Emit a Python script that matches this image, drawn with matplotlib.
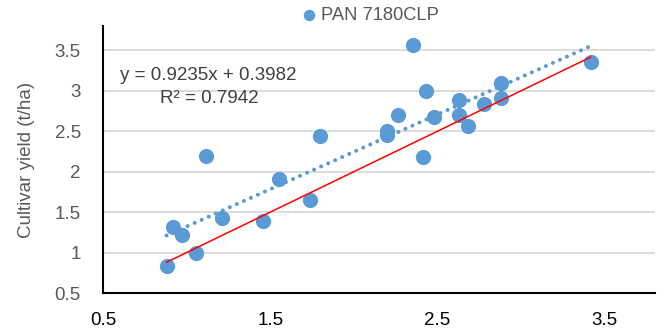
import matplotlib
matplotlib.use('Agg')
import matplotlib.pyplot as plt
import numpy as np

plt.rcParams['font.family'] = ['Liberation Sans', 'DejaVu Sans']

x_vals = [0.88, 0.92, 0.97, 1.055, 1.115, 1.21, 1.455, 1.555, 1.735, 1.795,
          2.20, 2.20, 2.265, 2.355, 2.415, 2.43, 2.48, 2.63, 2.63, 2.685,
          2.78, 2.88, 2.88, 3.415]
y_vals = [0.83, 1.31, 1.22, 1.00, 2.19, 1.43, 1.385, 1.915, 1.655, 2.435,
          2.50, 2.45, 2.705, 3.56, 2.175, 3.00, 2.68, 2.88, 2.705, 2.56,
          2.84, 3.10, 2.915, 3.36]
slope = 0.9235
intercept = 0.3982
r2 = 0.7942
series_name = 'PAN 7180CLP'

blue = '#5B9BD5'
fig = plt.figure(figsize=(6.67, 3.36), dpi=100)
ax = fig.add_axes([103/667, 1 - 293/336, (655-103)/667, (293-26)/336])

ax.scatter(x_vals, y_vals, s=120, color=blue, zorder=3, label=series_name, linewidths=0)

# linear trend line over the data range
xt = np.array([min(x_vals), max(x_vals)])
ax.plot(xt, slope*xt + intercept, color=blue, lw=2.9, linestyle=(0, (0.01, 1.9)),
        dash_capstyle='round', zorder=2)
# 1:1 line
ax.plot(xt, xt, color='red', lw=1.1, zorder=4)

ax.text(0.031, 0.816, 'y = %.4fx + %.4f' % (slope, intercept), transform=ax.transAxes,
        fontsize=13.5, color='#404040', ha='left', va='center')
ax.text(0.103, 0.73, 'R² = %.4f' % r2, transform=ax.transAxes,
        fontsize=13.5, color='#404040', ha='left', va='center')

ax.set_xlim(0.5, 3.8)
ax.set_ylim(0.5, 3.8)
ax.set_xticks([0.5, 1.5, 2.5, 3.5])
ax.set_yticks([0.5, 1, 1.5, 2, 2.5, 3, 3.5])
ax.set_yticklabels(['0.5', '1', '1.5', '2', '2.5', '3', '3.5'])
ax.tick_params(axis='y', length=0, labelsize=13.5, labelcolor='#595959', pad=16)
ax.tick_params(axis='x', length=0, labelsize=13.5, labelcolor='black', pad=14)
ax.yaxis.grid(True, color='#D9D9D9', lw=1.3)
ax.set_axisbelow(True)
for s in ['top', 'right']:
    ax.spines[s].set_visible(False)
ax.spines['left'].set_linewidth(1.5)
ax.spines['bottom'].set_linewidth(1.5)
ax.set_ylabel('Cultivar yield (t/ha)', fontsize=13.5, color='#595959', labelpad=14)

fig.legend(loc='center', bbox_to_anchor=(365/667, 1 - 15/336), frameon=False,
           fontsize=13.2, labelcolor='#595959', handletextpad=-0.35, borderaxespad=0,
           borderpad=0, markerscale=0.75)

fig.savefig('out.png', dpi=100)
